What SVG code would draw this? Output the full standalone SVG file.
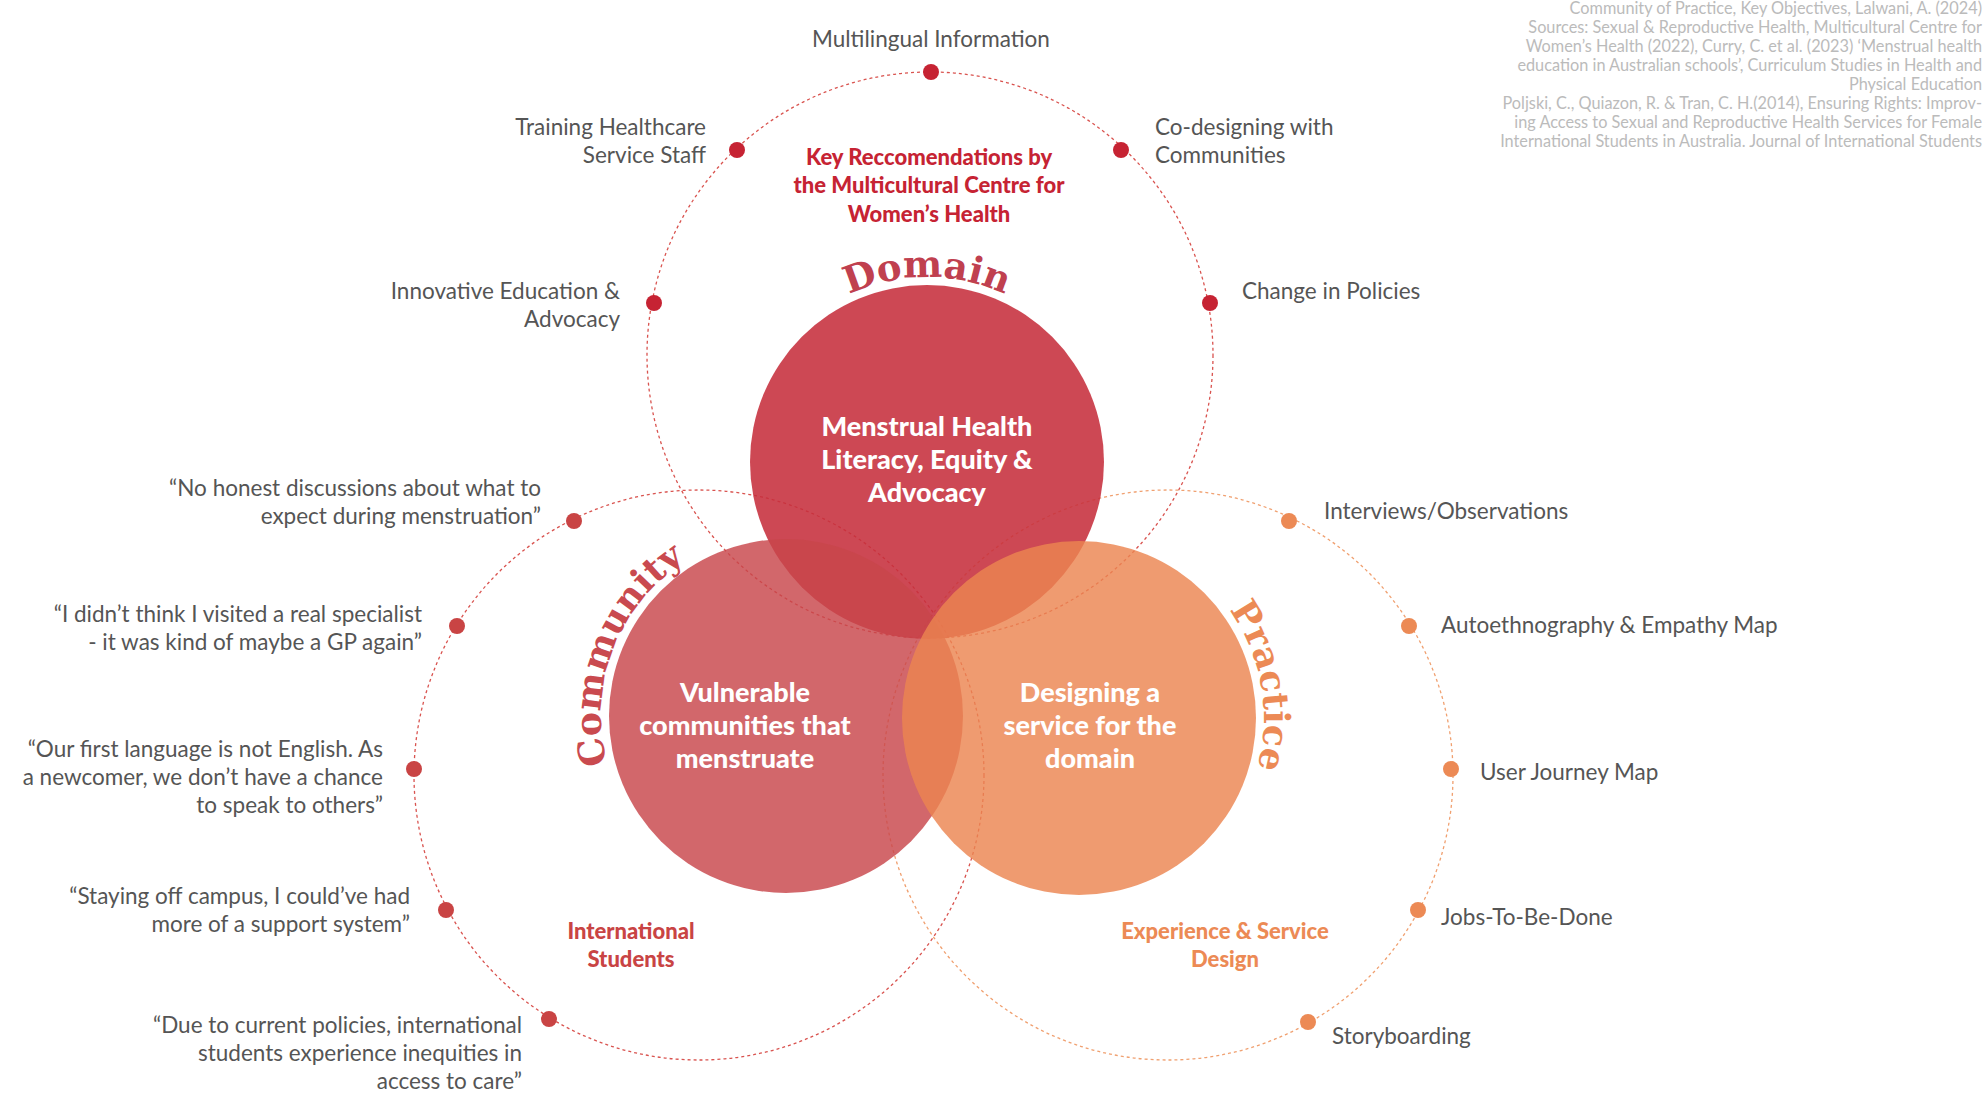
<svg xmlns="http://www.w3.org/2000/svg" width="1984" height="1096" viewBox="0 0 1984 1096">
<style>
.lbl{font-family:Lato,"Open Sans",sans-serif;font-size:22.5px;fill:#555}
.src{font-family:Lato,"Open Sans",sans-serif;font-size:16.3px;fill:#bbb;text-anchor:end}
.ctr{font-family:Lato,"Open Sans",sans-serif;font-size:27px;font-weight:900;fill:#fff;text-anchor:middle}
.arc{font-family:"DejaVu Serif","Liberation Serif",serif;font-weight:bold}
.dash{fill:none;stroke-width:1.3;stroke-dasharray:3 3}
.hd{font-family:Lato,"Open Sans",sans-serif;font-size:22px;font-weight:900;text-anchor:middle}
</style>
<defs>
<path id="pD" d="M753.2,398.7 A185,185 0 0 1 1100.8,398.7"/>
<path id="pC" d="M664.6,855.6 A185,185 0 0 1 789.2,531"/>
<path id="pP" d="M1111.1,535.8 A185,185 0 0 1 1171.5,878.2"/>
</defs>
<rect width="1984" height="1096" fill="#fff"/>
<g id="connectors">
<circle class="dash" cx="930" cy="355" r="283" stroke="#d9534f"/>
<circle class="dash" cx="699" cy="775" r="285" stroke="#d9534f"/>
<circle class="dash" cx="1168" cy="775" r="285" stroke="#f0a070"/>
</g>
<g id="domain"><circle cx="927" cy="462" r="177" fill="#c62f3c" opacity="0.88"/></g>
<g id="community"><circle cx="786" cy="716" r="177" fill="#c8454a" opacity="0.82"/></g>
<g id="practice"><circle cx="1079" cy="718" r="177" fill="#ec8550" opacity="0.82"/></g>
<g id="centers">
<text class="ctr" x="927" y="436">Menstrual Health</text><text class="ctr" x="927" y="469">Literacy, Equity &amp;</text><text class="ctr" x="927" y="502">Advocacy</text>
<text class="ctr" x="745" y="702">Vulnerable</text><text class="ctr" x="745" y="735">communities that</text><text class="ctr" x="745" y="768">menstruate</text>
<text class="ctr" x="1090" y="702">Designing a</text><text class="ctr" x="1090" y="735">service for the</text><text class="ctr" x="1090" y="768">domain</text>
</g>
<g id="arcs">
<text class="arc" font-size="37" fill="#c0404f"><textPath href="#pD" startOffset="50%" text-anchor="middle">Domain</textPath></text>
<text class="arc" font-size="36" fill="#c94a4f"><textPath href="#pC" startOffset="50%" text-anchor="middle">Community</textPath></text>
<text class="arc" font-size="36" fill="#ec8a55"><textPath href="#pP" startOffset="50%" text-anchor="middle">Practice</textPath></text>
</g>
<g id="top-node">
<text class="hd" fill="#c62333" x="929" y="165">Key Reccomendations by</text>
<text class="hd" fill="#c62333" x="929" y="193">the Multicultural Centre for</text>
<text class="hd" fill="#c62333" x="929" y="222">Women’s Health</text>
<g fill="#c62333"><circle cx="931" cy="72" r="8"/><circle cx="737" cy="150" r="8"/><circle cx="1121" cy="150" r="8"/><circle cx="654" cy="303" r="8"/><circle cx="1210" cy="303" r="8"/></g>
<text class="lbl" x="931" y="47" text-anchor="middle">Multilingual Information</text>
<text class="lbl" x="706" y="135" text-anchor="end">Training Healthcare</text><text class="lbl" x="706" y="163" text-anchor="end">Service Staff</text>
<text class="lbl" x="1155" y="135">Co-designing with</text><text class="lbl" x="1155" y="163">Communities</text>
<text class="lbl" x="620" y="299" text-anchor="end">Innovative Education &amp;</text><text class="lbl" x="620" y="327" text-anchor="end">Advocacy</text>
<text class="lbl" x="1242" y="299">Change in Policies</text>
</g>
<g id="left-node">
<text class="hd" fill="#c94444" x="631" y="939">International</text><text class="hd" fill="#c94444" x="631" y="967">Students</text>
<g fill="#c94444"><circle cx="574" cy="521" r="8"/><circle cx="457" cy="626" r="8"/><circle cx="414" cy="769" r="8"/><circle cx="446" cy="910" r="8"/><circle cx="549" cy="1019" r="8"/></g>
<g class="lbl" text-anchor="end">
<text x="541" y="496">“No honest discussions about what to</text><text x="541" y="524">expect during menstruation”</text>
<text x="422" y="622">“I didn’t think I visited a real specialist</text><text x="422" y="650">- it was kind of maybe a GP again”</text>
<text x="383" y="757">“Our first language is not English. As</text><text x="383" y="785">a newcomer, we don’t have a chance</text><text x="383" y="813">to speak to others”</text>
<text x="410" y="904">“Staying off campus, I could’ve had</text><text x="410" y="932">more of a support system”</text>
<text x="522" y="1033">“Due to current policies, international</text><text x="522" y="1061">students experience inequities in</text><text x="522" y="1089">access to care”</text>
</g>
</g>
<g id="right-node">
<text class="hd" fill="#ec8a55" x="1225" y="939">Experience &amp; Service</text><text class="hd" fill="#ec8a55" x="1225" y="967">Design</text>
<g fill="#ec8a55"><circle cx="1289" cy="521" r="8"/><circle cx="1409" cy="626" r="8"/><circle cx="1451" cy="769" r="8"/><circle cx="1418" cy="910" r="8"/><circle cx="1308" cy="1022" r="8"/></g>
<text class="lbl" x="1324" y="519">Interviews/Observations</text>
<text class="lbl" x="1441" y="633">Autoethnography &amp; Empathy Map</text>
<text class="lbl" x="1480" y="780">User Journey Map</text>
<text class="lbl" x="1441" y="925">Jobs-To-Be-Done</text>
<text class="lbl" x="1332" y="1044">Storyboarding</text>
</g>
<g id="sources">
<text class="src" x="1982" y="14">Community of Practice, Key Objectives, Lalwani, A. (2024)</text>
<text class="src" x="1982" y="33">Sources: Sexual &amp; Reproductive Health, Multicultural Centre for</text>
<text class="src" x="1982" y="52">Women’s Health (2022), Curry, C. et al. (2023) ‘Menstrual health</text>
<text class="src" x="1982" y="71">education in Australian schools’, Curriculum Studies in Health and</text>
<text class="src" x="1982" y="90">Physical Education</text>
<text class="src" x="1982" y="109">Poljski, C., Quiazon, R. &amp; Tran, C. H.(2014), Ensuring Rights: Improv-</text>
<text class="src" x="1982" y="128">ing Access to Sexual and Reproductive Health Services for Female</text>
<text class="src" x="1982" y="147">International Students in Australia. Journal of International Students</text>
</g>
</svg>
